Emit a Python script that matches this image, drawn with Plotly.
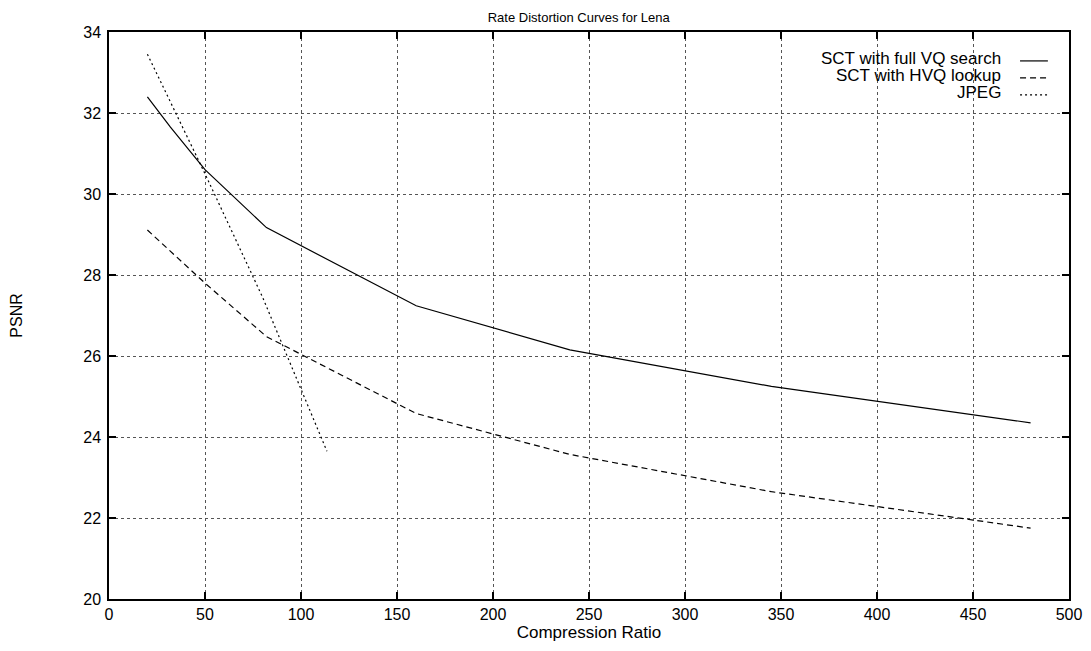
import plotly.graph_objects as go

# Data
ratio_full = [20, 32, 50, 82, 160, 240, 345, 480]
psnr_full = [32.4, 31.65, 30.6, 29.17, 27.24, 26.15, 25.25, 24.35]

ratio_hvq = [20, 50, 82, 160, 240, 345, 480]
psnr_hvq = [29.11, 27.8, 26.48, 24.58, 23.57, 22.65, 21.75]

ratio_jpeg = [20, 50, 80, 113.5]
psnr_jpeg = [33.45, 30.5, 27.45, 23.65]

series_names = ["SCT with full VQ search", "SCT with HVQ lookup", "JPEG"]
series_dash = ["solid", "6px,4px", "2px,3px"]

x_ticks = [0, 50, 100, 150, 200, 250, 300, 350, 400, 450, 500]
y_ticks = [20, 22, 24, 26, 28, 30, 32, 34]

FONT = "Liberation Sans, Arial, Helvetica, sans-serif"

fig = go.Figure()
for xs, ys, name, dash in zip([ratio_full, ratio_hvq, ratio_jpeg],
                              [psnr_full, psnr_hvq, psnr_jpeg],
                              series_names, series_dash):
    fig.add_trace(go.Scatter(x=xs, y=ys, mode="lines", name=name,
                             line=dict(color="black", width=1.2, dash=dash),
                             showlegend=False))

# Manual legend (text then sample line on the right, gnuplot style)
leg_rows = [0.953, 0.923, 0.893]
for name, dash, yy in zip(series_names, series_dash, leg_rows):
    fig.add_annotation(x=0.9315, y=yy, xref="paper", yref="paper", text=name,
                       showarrow=False, xanchor="right", yanchor="middle",
                       font=dict(family=FONT, size=17, color="black"))
    fig.add_shape(type="line", xref="paper", yref="paper",
                  x0=0.949, x1=0.978, y0=yy - 0.004, y1=yy - 0.004,
                  line=dict(color="black", width=1.2, dash=dash))

axis_common = dict(
    showline=True, linecolor="black", linewidth=1.5, mirror="ticks",
    ticks="inside", ticklen=7, tickcolor="black", tickwidth=1.5,
    showgrid=True, gridcolor="#555555", griddash="dot", gridwidth=1,
    zeroline=False, automargin=False,
    tickfont=dict(family=FONT, size=16, color="black"),
)

fig.update_xaxes(range=[0, 500], tickvals=x_ticks,
                 title=dict(text="Compression Ratio", standoff=2,
                            font=dict(family=FONT, size=17, color="black")),
                 **axis_common)
fig.update_yaxes(range=[20, 34], tickvals=y_ticks, ticklabelstandoff=3,
                 title=dict(text="PSNR", standoff=60,
                            font=dict(family=FONT, size=16, color="black")),
                 **axis_common)

fig.update_layout(
    width=1083, height=643,
    margin=dict(l=101, r=22, t=24, b=52),
    paper_bgcolor="white", plot_bgcolor="white",
    title=dict(text="Rate Distortion Curves for Lena", x=0.527, xanchor="center",
               y=0.992, yanchor="top",
               font=dict(family=FONT, size=13, color="black")),
    font=dict(family=FONT, color="black"),
)

fig.write_html("out.html")
